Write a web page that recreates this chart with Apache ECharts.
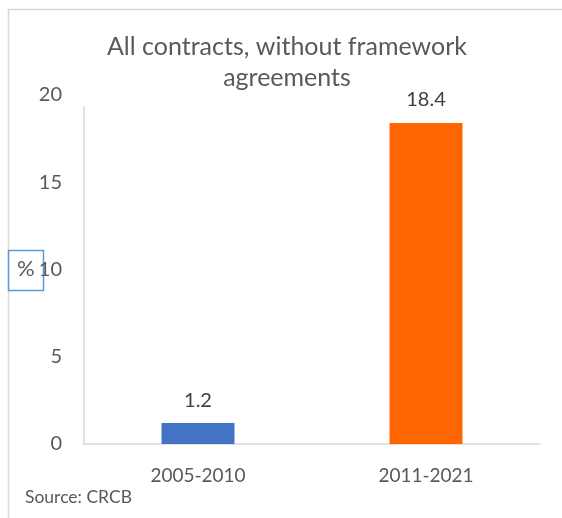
<!DOCTYPE html>
<html><head><meta charset="utf-8">
<script src="https://cdn.jsdelivr.net/npm/echarts@6/dist/echarts.min.js"></script>
<style>html,body{margin:0;padding:0;background:#fff}#c{width:562px;height:518px}</style>
</head><body><div id="c"></div>
<script>
const categories = ['2005-2010', '2011-2021'];
const values = [1.2, 18.4];
const barColors = ['#4472c4', '#ff6600'];
const yTicks = [0, 5, 10, 15, 20];

const chart = echarts.init(document.getElementById('c'));
const font = 'Lato, "Open Sans", sans-serif';
chart.setOption({
  animation: false,
  textStyle: { fontFamily: font },
  title: {
    text: 'All contracts, without framework\nagreements',
    left: 287, top: 31, textAlign: 'center',
    padding: 0,
    textStyle: { fontFamily: font, fontSize: 25, fontWeight: 'normal', color: '#595959', lineHeight: 31 }
  },
  grid: { left: 84, right: 22, top: 95, bottom: 74 },
  xAxis: {
    type: 'category', data: categories,
    axisLine: { lineStyle: { color: '#d9d9d9', width: 1.5 } },
    axisTick: { show: false },
    axisLabel: { color: '#595959', fontSize: 19, margin: 22, fontFamily: font }
  },
  yAxis: {
    type: 'value', min: yTicks[0], max: yTicks[yTicks.length - 1], interval: 5,
    axisLine: { show: true, lineStyle: { color: '#d9d9d9', width: 1.5 } },
    axisTick: { show: false },
    splitLine: { show: false },
    axisLabel: { color: '#595959', fontSize: 20, margin: 22, fontFamily: font }
  },
  series: [{
    type: 'bar', barWidth: '32%',
    data: values.map((v, i) => ({ value: v, itemStyle: { color: barColors[i] } })),
    label: { show: true, position: 'top', distance: 13, color: '#404040', fontSize: 20, fontFamily: font }
  }],
  graphic: [
    { type: 'rect', shape: { x: 8.5, y: 9.5, width: 600, height: 600 }, style: { fill: 'none', stroke: '#d9d9d9', lineWidth: 1.5 }, silent: true, z: -1 },
    { type: 'rect', shape: { x: 80, y: 90, width: 10, height: 16 }, style: { fill: '#ffffff' }, silent: true, z: 100 },
    { type: 'rect', shape: { x: 8.5, y: 250.5, width: 35, height: 40 }, style: { fill: 'none', stroke: '#5b9bd5', lineWidth: 1.5 } },
    { type: 'text', left: 17, top: 258, style: { text: '%', fontSize: 22, fill: '#595959', fontFamily: font } },
    { type: 'text', left: 25, top: 488, style: { text: 'Source: CRCB', fontSize: 17.5, fill: '#595959', fontFamily: font } }
  ]
});
</script></body></html>
